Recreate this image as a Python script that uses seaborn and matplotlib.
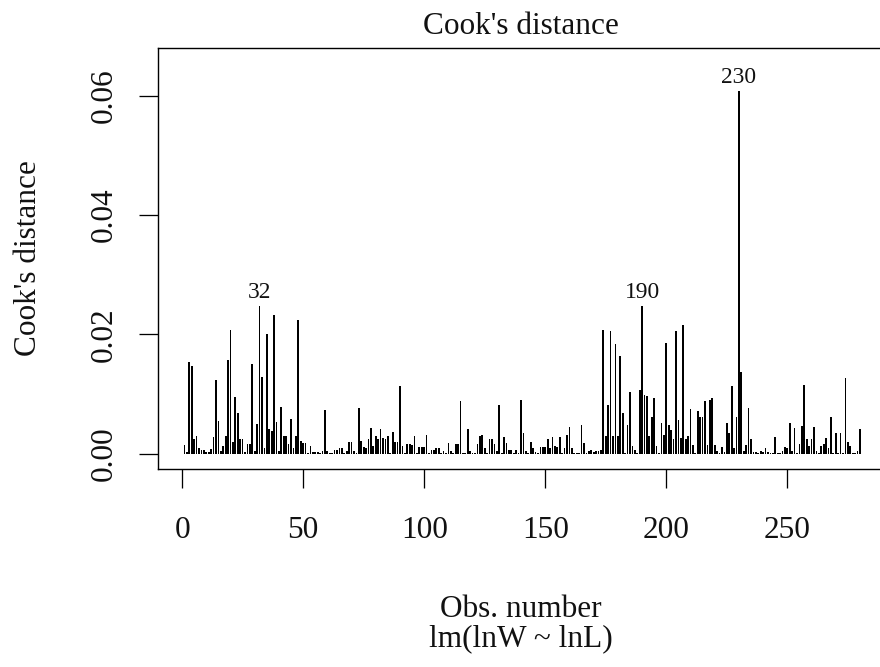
import numpy as np
import pandas as pd
import matplotlib
matplotlib.use("Agg")
import matplotlib.pyplot as plt
import seaborn as sns

# ---------------- data ----------------
obs_number = list(range(1, 281))
cooks_distance = [
    0.0014, 0.0003, 0.0154, 0.0147, 0.0025, 0.0029, 0.0010, 0.0007, 0.0007, 0.0003,  # 1-10
    0.0003, 0.0008, 0.0028, 0.0123, 0.0055, 0.0005, 0.0013, 0.0029, 0.0157, 0.0208,  # 11-20
    0.0020, 0.0095, 0.0068, 0.0025, 0.0025, 0.0003, 0.0017, 0.0017, 0.0151, 0.0004,  # 21-30
    0.0050, 0.0248, 0.0129, 0.0010, 0.0201, 0.0042, 0.0038, 0.0233, 0.0053, 0.0004,  # 31-40
    0.0079, 0.0030, 0.0030, 0.0016, 0.0059, 0.0010, 0.0030, 0.0225, 0.0021, 0.0018,  # 41-50
    0.0018, 0.0001, 0.0013, 0.0003, 0.0003, 0.0003, 0.0001, 0.0005, 0.0073, 0.0005,  # 51-60
    0.0001, 0.0001, 0.0007, 0.0007, 0.0010, 0.0010, 0.0001, 0.0005, 0.0020, 0.0020,  # 61-70
    0.0005, 0.0002, 0.0076, 0.0021, 0.0011, 0.0010, 0.0024, 0.0043, 0.0013, 0.0030,  # 71-80
    0.0025, 0.0041, 0.0027, 0.0025, 0.0030, 0.0002, 0.0037, 0.0019, 0.0019, 0.0114,  # 81-90
    0.0013, 0.0001, 0.0017, 0.0017, 0.0015, 0.0029, 0.0001, 0.0011, 0.0011, 0.0012,  # 91-100
    0.0031, 0.0001, 0.0007, 0.0007, 0.0010, 0.0010, 0.0001, 0.0005, 0.0002, 0.0018,  # 101-110
    0.0005, 0.0001, 0.0017, 0.0017, 0.0089, 0.0001, 0.0001, 0.0042, 0.0005, 0.0001,  # 111-120
    0.0001, 0.0017, 0.0030, 0.0031, 0.0010, 0.0001, 0.0024, 0.0024, 0.0017, 0.0005,  # 121-130
    0.0082, 0.0001, 0.0028, 0.0018, 0.0007, 0.0007, 0.0001, 0.0007, 0.0002, 0.0090,  # 131-140
    0.0034, 0.0005, 0.0001, 0.0020, 0.0010, 0.0003, 0.0001, 0.0011, 0.0011, 0.0011,  # 141-150
    0.0024, 0.0010, 0.0028, 0.0013, 0.0011, 0.0028, 0.0001, 0.0010, 0.0031, 0.0045,  # 151-160
    0.0010, 0.0001, 0.0001, 0.0002, 0.0048, 0.0018, 0.0001, 0.0005, 0.0007, 0.0003,  # 161-170
    0.0005, 0.0005, 0.0007, 0.0208, 0.0030, 0.0082, 0.0205, 0.0029, 0.0184, 0.0029,  # 171-180
    0.0164, 0.0069, 0.0001, 0.0048, 0.0103, 0.0013, 0.0007, 0.0002, 0.0107, 0.0248,  # 181-190
    0.0099, 0.0096, 0.0030, 0.0062, 0.0094, 0.0013, 0.0001, 0.0052, 0.0031, 0.0185,  # 191-200
    0.0048, 0.0040, 0.0024, 0.0205, 0.0057, 0.0027, 0.0215, 0.0024, 0.0030, 0.0075,  # 201-210
    0.0015, 0.0001, 0.0072, 0.0061, 0.0061, 0.0088, 0.0015, 0.0090, 0.0094, 0.0015,  # 211-220
    0.0005, 0.0001, 0.0012, 0.0003, 0.0052, 0.0034, 0.0113, 0.0010, 0.0062, 0.0608,  # 221-230
    0.0137, 0.0005, 0.0015, 0.0076, 0.0025, 0.0003, 0.0003, 0.0001, 0.0005, 0.0003,  # 231-240
    0.0010, 0.0003, 0.0001, 0.0001, 0.0028, 0.0001, 0.0001, 0.0005, 0.0011, 0.0010,  # 241-250
    0.0052, 0.0005, 0.0043, 0.0001, 0.0017, 0.0046, 0.0116, 0.0025, 0.0013, 0.0025,  # 251-260
    0.0045, 0.0005, 0.0001, 0.0013, 0.0017, 0.0027, 0.0010, 0.0062, 0.0001, 0.0034,  # 261-270
    0.0001, 0.0034, 0.0001, 0.0127, 0.0020, 0.0013, 0.0001, 0.0002, 0.0005, 0.0041,  # 271-280
]
id_obs = [32, 190, 230]
x_ticks = [0, 50, 100, 150, 200, 250]
x_tick_labels = ["0", "50", "100", "150", "200", "250"]
y_ticks = [0.00, 0.02, 0.04, 0.06]
y_tick_labels = ["0.00", "0.02", "0.04", "0.06"]
title_text = "Cook's distance"
x_label = "Obs. number"
sub_caption = "lm(lnW ~ lnL)"
y_label = "Cook's distance"

# ---------------- style ----------------
sns.set_theme(style="white")
plt.rcParams["font.family"] = ["Liberation Serif", "DejaVu Serif"]
FS = 22.5
px = 72.0 / 100.0  # points per pixel at dpi 100

W, H = 880, 667
fig = plt.figure(figsize=(W / 100, H / 100), dpi=100)
fig.patch.set_facecolor("white")

# axes box in pixel coordinates (right edge lies outside the image, as in the reference)
L, R, T, B = 157.5, 887.0, 48.3, 469.3
ax = fig.add_axes([L / W, 1 - B / H, (R - L) / W, (B - T) / H])
ax.set_facecolor("white")

df = pd.DataFrame({"obs": obs_number, "cook": cooks_distance})
sns.histplot(data=df, x="obs", weights="cook", discrete=True, shrink=0.72,
             color="black", alpha=1.0, linewidth=0, edgecolor="none", ax=ax)

# R-style limits
xr = (obs_number[-1] - obs_number[0]) * 0.04
ax.set_xlim(obs_number[0] - xr, obs_number[-1] + xr)
ymax = max(cooks_distance) * 1.075
ax.set_ylim(-0.04 * ymax, 1.04 * ymax)

for s in ax.spines.values():
    s.set_visible(True)
    s.set_color("black")
    s.set_linewidth(1.4 * px)

ax.set_xticks(x_ticks)
ax.set_xticklabels(x_tick_labels)
ax.set_yticks(y_ticks)
ax.set_yticklabels(y_tick_labels)
ax.tick_params(axis="both", which="major", direction="out", length=19 * px,
               width=1.3 * px, color="black", labelsize=FS, labelcolor="#111111",
               bottom=True, left=True, top=False, right=False)
ax.tick_params(axis="x", pad=28 * px)
ax.tick_params(axis="y", pad=20 * px)
for lab in ax.get_yticklabels():
    lab.set_rotation(90)
    lab.set_verticalalignment("center")
    lab.set_horizontalalignment("right")

ax.set_xlabel("")
ax.set_ylabel("")

# id labels above the largest values
for i in id_obs:
    ax.annotate(str(i), xy=(i, cooks_distance[i - 1]), xytext=(0, 8 * px),
                textcoords="offset points", ha="center", va="baseline",
                fontsize=FS * 0.75, color="#111111")

def fx(x):
    return x / W

def fy(y):
    return 1 - y / H

fig.text(fx(521), fy(34), title_text, ha="center", va="baseline", fontsize=FS, color="#111111")
fig.text(fx(521), fy(617), x_label, ha="center", va="baseline", fontsize=FS, color="#111111")
fig.text(fx(521), fy(646), sub_caption, ha="center", va="baseline", fontsize=FS, color="#111111")
fig.text(fx(36), fy(258.5), y_label, ha="center", va="baseline", rotation=90,
         rotation_mode="anchor", fontsize=FS, color="#111111")

fig.savefig("out.png", dpi=100, facecolor="white")
